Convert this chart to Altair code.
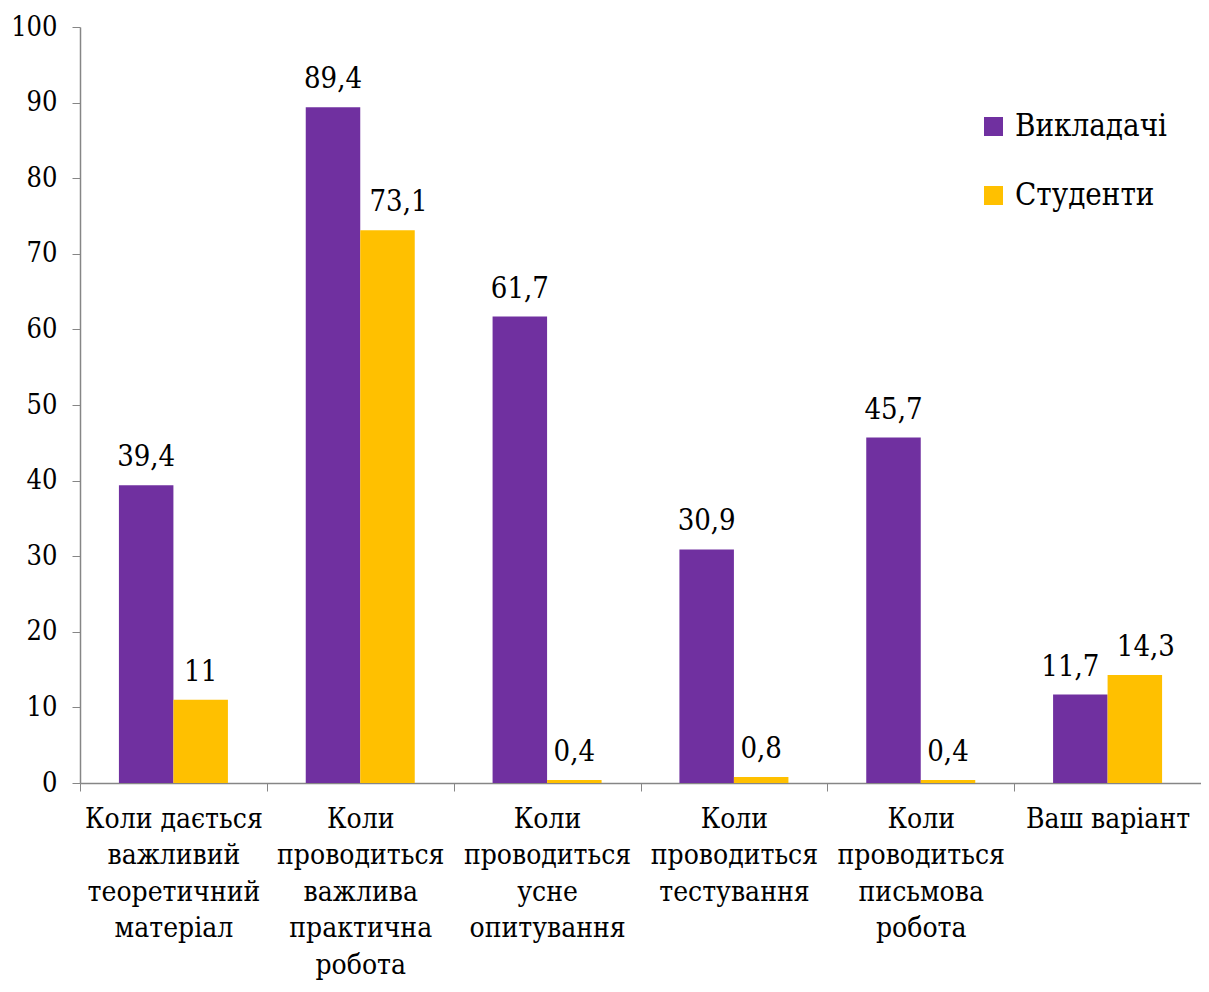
import altair as alt
import pandas as pd

categories = [
    "Коли дається|важливий|теоретичний|матеріал",
    "Коли|проводиться|важлива|практична|робота",
    "Коли|проводиться|усне|опитування",
    "Коли|проводиться|тестування",
    "Коли|проводиться|письмова|робота",
    "Ваш варіант",
]
series = ["Викладачі", "Студенти"]
teachers = [39.4, 89.4, 61.7, 30.9, 45.7, 11.7]
students = [11, 73.1, 0.4, 0.8, 0.4, 14.3]
colors = ["#7030A0", "#FFC000"]

rows = []
for c, t, s in zip(categories, teachers, students):
    rows.append({"cat": c, "series": series[0], "value": t})
    rows.append({"cat": c, "series": series[1], "value": s})
df = pd.DataFrame(rows)
df["label"] = df["value"].map(lambda v: (f"{v:g}").replace(".", ","))

FONT = "DejaVu Serif Condensed"

x = alt.X("cat:N", sort=categories, title=None,
          scale=alt.Scale(paddingInner=0, paddingOuter=0),
          axis=alt.Axis(labelExpr="split(datum.label, '|')", labelAngle=0,
                        labelFont=FONT, labelFontSize=28, labelColor="black",
                        labelLineHeight=36.5, labelPadding=14, labelBaseline="top",
                        tickBand="extent", tickSize=8, tickColor="#868686",
                        domainColor="#868686", domainWidth=1.5, labelLimit=300))
xo = alt.XOffset("series:N", sort=series, scale=alt.Scale(paddingOuter=0.714, paddingInner=0))
y = alt.Y("value:Q", title=None,
          scale=alt.Scale(domain=[0, 100], nice=False),
          axis=alt.Axis(values=list(range(0, 101, 10)), grid=False,
                        labelFont=FONT, labelFontSize=27, labelColor="black",
                        labelPadding=15, tickSize=8, tickColor="#868686",
                        domainColor="#868686", domainWidth=1.5))

base = alt.Chart(df)
bars = base.mark_bar().encode(
    x=x, xOffset=xo, y=y,
    color=alt.Color("series:N", sort=series,
                    scale=alt.Scale(domain=series, range=colors),
                    legend=alt.Legend(title=None, orient="none", legendX=898, legendY=84,
                                      symbolType="square", symbolSize=361,
                                      symbolStrokeWidth=0, labelFont=FONT,
                                      labelFontSize=31, labelColor="black",
                                      labelLimit=400,
                                      rowPadding=37, labelOffset=6)),
)

last = categories[-1]
crowded_right = f"(datum.series == 'Студенти' && (datum.cat == '{last}' || datum.value == 73.1))"
crowded_left = f"(datum.series == 'Викладачі' && datum.cat == '{last}')"


def labels(filter_expr, dx):
    return base.transform_filter(filter_expr).mark_text(
        font=FONT, fontSize=29, dy=-13, dx=dx, baseline="bottom", color="black"
    ).encode(x=x, xOffset=xo, y=y, text="label:N")


text_main = labels(f"!{crowded_right} && !{crowded_left}", 0)
text_right = labels(crowded_right, 11)
text_left = labels(crowded_left, -10)

chart = (bars + text_main + text_right + text_left).properties(
    width=1121, height=756,
    background="white",
    autosize=alt.AutoSizeParams(type="none"),
    padding={"left": 72, "top": 19, "right": 0, "bottom": 200},
).configure_view(strokeWidth=0, stroke="transparent")

chart.save("out.html", embed_options={"renderer": "svg", "actions": False})
